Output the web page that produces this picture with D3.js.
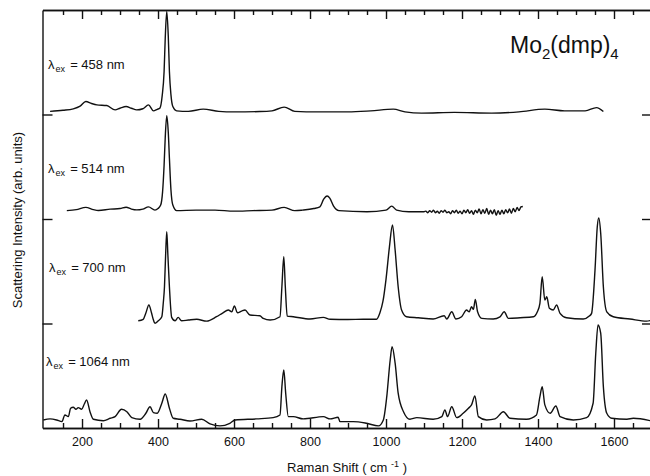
<!DOCTYPE html>
<html>
<head>
<meta charset="utf-8">
<script src="https://cdn.jsdelivr.net/npm/d3@7"></script>
<style>
body { margin: 0; background: #fff; }
svg text { font-family: "Liberation Sans", Arial, sans-serif; fill: #111; }
</style>
</head>
<body>
<div id="chart"></div>
<script>
// excitation wavelengths (nm), top to bottom
const excitations = ["458", "514", "700", "1064"];
// vertical offset of each spectrum (arb. units)
const offsets = [30.3, 20.8, 10.33, 0.77];

// Raman shift (cm-1) and intensity above the trace's own baseline
const shift458 = [116,150,177,195,210,225,239,265,287,300,316,330,344,360,375,388,398,405,411,416,419,423,427,430,434,439,449,480,519,560,600,668,700,732,760,820,900,960,1019,1050,1094,1180,1278,1350,1418,1470,1524,1554,1572];
const int458 = [0,0.1,0.24,0.5,0.94,0.75,0.62,0.56,0.14,0.3,0.46,0.3,0.14,0.25,0.62,0.05,0.2,0.31,1.5,3.81,7.0,9.55,7.2,3.81,1.6,0.46,0.05,0.0,0.21,0.0,-0.05,-0.02,0.05,0.41,0.0,-0.05,-0.05,0.05,0.21,-0.05,-0.17,-0.1,-0.17,-0.05,0.21,0.05,0.05,0.36,-0.02];

const shift514 = [160,185,210,230,243,274,300,316,330,344,360,375,392,400,407,412,416,419,423,427,430,434,439,449,500,550,600,650,700,732,760,780,810,826,836,845,852,862,876,950,1000,1015,1028,1060,1100,
  1105,1110,1115,1120,1125,1130,1135,1140,1145,1150,1155,1160,1165,1170,1175,1180,1185,1190,1195,1200,1205,1210,1215,1220,1225,1230,
  1235,1240,1245,1250,1255,1260,1265,1270,1275,1280,1285,1290,1295,1300,1305,1310,1315,1320,1325,1330,1335,1340,1345,1350,1355,1360];
const int514 = [0,0.1,0.31,0.1,0.02,0.14,0.2,0.33,0.15,0.07,0.15,0.36,0.05,0.2,0.53,1.8,4.35,7.0,9.09,7.5,5.02,2.0,0.53,0,0.05,0.05,-0.05,0,0.05,0.31,0,0.05,0.2,0.37,1.1,1.4,1.2,0.43,0,-0.1,0.05,0.43,0.05,-0.1,-0.1,
  -0.05,-0.2,0.0,-0.15,0.05,-0.2,-0.05,-0.25,0.0,-0.15,0.05,-0.2,-0.1,-0.3,0.0,-0.2,0.05,-0.25,-0.05,-0.3,0.05,-0.2,0.1,-0.25,0.0,-0.35,
  0.05,-0.2,0.15,-0.3,0.1,-0.25,0.2,-0.35,0.05,-0.3,0.1,-0.45,0.0,-0.35,0.05,-0.3,0.1,-0.2,0.15,-0.25,0.2,-0.1,0.3,0.0,0.35,0.4];

const shift700 = [348,361,368,376,383,388,392,400,410,414,417,420,423,426,430,436,445,453,462,480,502,528,554,570,585,594,601,609,620,629,642,668,677,695,721,726,731,735,740,756,800,835,853,900,940,975,984,992,1000,1009,1017,1024,1032,1041,1054,1085,1124,1153,1160,1173,1184,1199,1212,1219,1225,1230,1235,1241,1252,1282,1300,1311,1322,1353,1388,1398,1405,1411,1418,1423,1430,1440,1449,1458,1475,1519,1535,1541,1550,1556,1560,1565,1572,1581,1598,1642,1686,1695];
const int700 = [-0.07,0.07,0.67,1.44,0.67,0,-0.32,-0.1,0.32,1.7,3.19,6.2,8.45,6.2,3.19,0.26,-0.07,0.26,-0.07,0,0.07,-0.1,0.32,0.67,0.96,0.79,1.34,0.7,0.86,0.96,0.48,0.41,0.16,0,0.32,3.19,6.06,3.19,0.38,0.32,0.1,0.26,0.07,0.05,0.07,0.07,0.7,1.8,3.9,7.0,9.1,6.7,3.19,0.96,0.32,0.22,0.1,0.41,0.1,0.79,0.1,0.32,0.96,0.79,1.27,1.02,1.98,0.79,0.16,0.1,0.3,0.79,0.16,0.22,0.32,0.77,1.6,4.14,1.91,2.23,1.12,0.96,1.44,0.64,0.22,0.1,0.38,0.64,4.78,8.93,9.76,8.3,3.19,0.79,0.32,0.1,-0.1,-0.05];

const shift1064 = [98,116,133,147,155,164,170,177,184,190,199,206,212,221,230,256,274,287,304,318,331,353,368,379,388,398,410,419,430,440,458,484,515,537,563,589,603,660,703,721,726,731,736,743,756,782,835,853,874,879,914,949,980,993,1002,1011,1016,1024,1032,1046,1063,1081,1124,1147,1155,1162,1173,1186,1203,1217,1225,1234,1243,1265,1287,1309,1326,1370,1396,1405,1411,1418,1432,1447,1458,1493,1528,1545,1552,1558,1565,1572,1581,1594,1634,1651,1695];
const int1064 = [0,0.1,0,-0.16,0.48,0.32,1.12,1.22,1.03,1.18,1.03,1.53,1.91,0.79,0.07,-0.07,0.16,0.32,1.02,0.79,0.22,0.07,0.64,1.27,0.7,0.64,1.6,2.49,1.12,0.16,0.07,-0.1,0.07,-0.38,-0.57,-0.32,0,0.1,0.22,0.48,3.19,4.78,2.56,0.32,0.32,0.1,0.32,0.1,0.26,-0.16,-0.16,-0.32,-0.57,0,2.23,5.74,7.01,5.43,2.56,0.79,0.07,0.22,0.07,0.32,0.96,0.32,1.27,0.22,0.64,1.12,1.44,2.3,0.32,0,0.1,0.79,0.16,0.07,0.48,2.23,3.19,1.44,0.64,1.34,0.32,0,0.22,1.6,6.38,9.09,8.3,3.19,0.64,0.16,0.07,0.16,-0.07];

const majorTicks = [200, 400, 600, 800, 1000, 1200, 1400, 1600];
const minorTicks = [150, 250, 300, 350, 450, 500, 550, 650, 700, 750, 850, 900, 950, 1050, 1100, 1150, 1250, 1300, 1350, 1450, 1500, 1550, 1650];
const offsetTicks = [10, 20, 30];

const spectra = [
    d3.zip(shift458, int458),
    d3.zip(shift514, int514),
    d3.zip(shift700, int700),
    d3.zip(shift1064, int1064)
];

const W = 650, H = 476;
const svg = d3.select("#chart")
    .append("svg")
    .attr("width", W)
    .attr("height", H);

const x = d3.scaleLinear().domain([96, 1700]).range([42.5, 652]);
const y = d3.scaleLinear().domain([0, 40]).range([428, 10]);

// traces
const line = d3.line()
    .curve(d3.curveMonotoneX)
    .x(d => x(d[0]))
    .y(d => y(d[1]));

spectra.forEach((s, i) => {
    svg.append("path")
        .datum(s.map(d => [d[0], d[1] + offsets[i]]))
        .attr("fill", "none")
        .attr("stroke", "#111")
        .attr("stroke-width", 1.4)
        .attr("stroke-linejoin", "round")
        .attr("d", line);
});

// frame and inward ticks
function styleAxis(g) {
    g.selectAll("path, line").attr("stroke", "#111").attr("stroke-width", 1.4);
}

svg.append("g")
    .attr("transform", `translate(0,${y(0)})`)
    .call(d3.axisBottom(x).tickValues(majorTicks).tickSize(-9).tickSizeOuter(0).tickPadding(9).tickFormat(d3.format("d")))
    .call(styleAxis)
    .call(g => g.selectAll("text").attr("font-size", 12.5).attr("fill", "#111").attr("font-family", null));

svg.append("g")
    .attr("transform", `translate(0,${y(0)})`)
    .call(d3.axisBottom(x).tickValues(minorTicks).tickSize(-5).tickSizeOuter(0).tickFormat(""))
    .call(styleAxis);

svg.append("g")
    .attr("transform", `translate(0,${y(40)})`)
    .call(d3.axisTop(x).tickValues(majorTicks).tickSize(-9).tickSizeOuter(0).tickFormat(""))
    .call(styleAxis);

svg.append("g")
    .attr("transform", `translate(0,${y(40)})`)
    .call(d3.axisTop(x).tickValues(minorTicks).tickSize(-5).tickSizeOuter(0).tickFormat(""))
    .call(styleAxis);

svg.append("g")
    .attr("transform", `translate(${x(96)},0)`)
    .call(d3.axisLeft(y).tickValues(offsetTicks).tickSize(-10).tickSizeOuter(0).tickFormat(""))
    .call(styleAxis);

svg.append("g")
    .attr("transform", `translate(${x(1700)},0)`)
    .call(d3.axisRight(y).tickValues(offsetTicks).tickSize(-10).tickSizeOuter(0).tickFormat(""))
    .call(styleAxis);

// excitation labels
const labelLift = [4.06, 3.59, 4.6, 5.21];
const labelX = [48, 48, 49, 46];
excitations.forEach((e, i) => {
    const t = svg.append("text")
        .attr("x", labelX[i])
        .attr("y", y(offsets[i] + labelLift[i]))
        .attr("font-size", 13);
    t.append("tspan").text("λ");
    t.append("tspan").attr("font-size", 9).attr("dx", 1).attr("dy", 3).text("ex");
    t.append("tspan").attr("dx", 1.5).attr("dy", -3).text(` = ${e} nm`);
});

// compound name
const title = svg.append("text")
    .attr("x", 510)
    .attr("y", 52.7)
    .attr("font-size", 23);
title.append("tspan").text("Mo");
title.append("tspan").attr("font-size", 15).attr("dy", 6.6).text("2");
title.append("tspan").attr("dy", -6.6).text("(dmp)");
title.append("tspan").attr("font-size", 15).attr("dy", 6.6).text("4");

// axis titles
const xt = svg.append("text")
    .attr("x", 287)
    .attr("y", 471.5)
    .attr("font-size", 13);
xt.append("tspan").text("Raman Shift ( cm ");
xt.append("tspan").attr("font-size", 9).attr("dy", -5).text("-1");
xt.append("tspan").attr("dy", 5).text(" )");

svg.append("text")
    .attr("transform", "translate(22,220) rotate(-90)")
    .attr("text-anchor", "middle")
    .attr("font-size", 13)
    .text("Scattering Intensity (arb. units)");
</script>
</body>
</html>
